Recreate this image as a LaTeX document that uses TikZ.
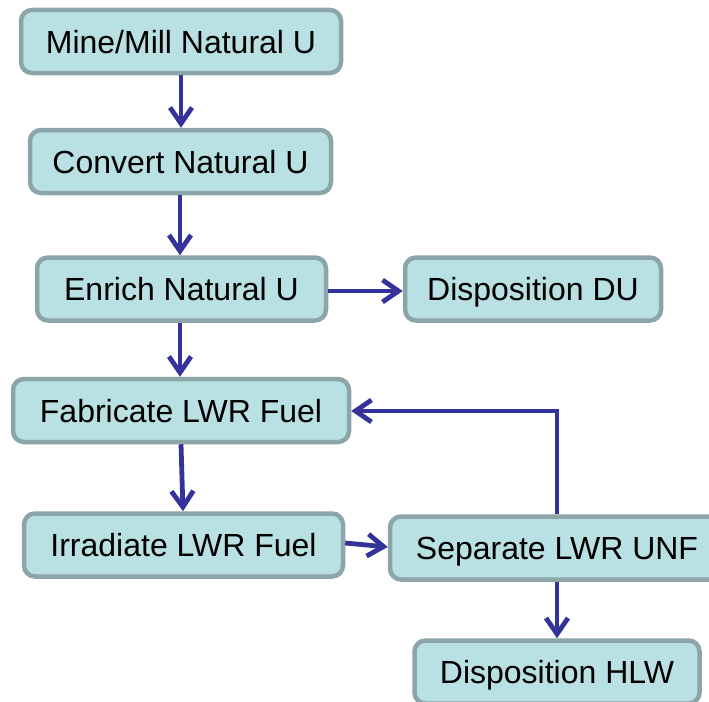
\documentclass[tikz,border=0pt]{standalone}
\usepackage{fontspec}
\setmainfont{Liberation Sans}
\usetikzlibrary{arrows.meta}
\definecolor{boxfill}{HTML}{B9E0E3}
\definecolor{boxline}{HTML}{8CA5A8}
\definecolor{flow}{HTML}{333399}
\tikzset{
  stage/.style={draw=boxline, fill=boxfill, line width=4.5pt, rounded corners=11pt,
    inner sep=0pt, minimum height=63pt, text depth=0pt,
    font=\fontsize{32}{36}\selectfont, text=black},
  flowarrow/.style={draw=flow, line width=4.8pt,
    -{Straight Barb[length=16pt, width=22pt, line width=4.8pt]}}
}
\begin{document}
\begin{tikzpicture}[x=1pt, y=-1pt]
  \useasboundingbox (0,0) rectangle (709,701);
  % process stages
  \node[stage, minimum width=320pt] (mine) at (181,41.5) {Mine/Mill Natural U};
  \node[stage, minimum width=301pt] (conv) at (180.5,161.5) {Convert Natural U};
  \node[stage, minimum width=289pt] (enr) at (181.5,289) {Enrich Natural U};
  \node[stage, minimum width=256pt] (du) at (533,289) {Disposition DU};
  \node[stage, minimum width=336pt] (fab) at (181,410.5) {Fabricate LWR Fuel};
  \node[stage, minimum width=319pt] (irr) at (183.5,545) {Irradiate LWR Fuel};
  \node[stage, minimum width=334pt] (sep) at (557,548) {Separate LWR UNF};
  \node[stage, minimum width=285pt] (hlw) at (557,672) {Disposition HLW};
  % material flow
  \draw[flowarrow] (mine.south -| 181,0) -- (conv.north -| 181,0);
  \draw[flowarrow] (conv.south -| 180,0) -- (enr.north -| 180,0);
  \draw[flowarrow] (enr.east |- 0,291) -- (du.west |- 0,291);
  \draw[flowarrow] (enr.south -| 180,0) -- (fab.north -| 180,0);
  \draw[flowarrow] (fab.south -| 181,0) -- (irr.north -| 183,0);
  \draw[flowarrow] (irr.east |- 0,543) -- (sep.west |- 0,547);
  \draw[flowarrow] (sep.north -| 557,0) |- (fab.east |- 0,411);
  \draw[flowarrow] (sep.south -| 557,0) -- (hlw.north -| 557,0);
\end{tikzpicture}
\end{document}
